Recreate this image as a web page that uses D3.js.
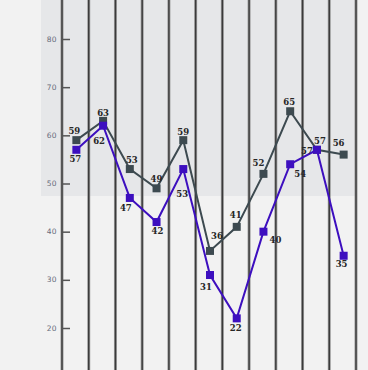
<!DOCTYPE html>
<html>
<head>
<meta charset="utf-8">
<script src="https://cdn.jsdelivr.net/npm/d3@7"></script>
<style>
  html, body { margin: 0; padding: 0; background: #f2f2f2; }
  svg { display: block; }
</style>
</head>
<body>
<svg class="line-chart"></svg>
<script>
const width = 368;
const height = 370;

// data
const categories = ["1", "2", "3", "4", "5", "6", "7", "8", "9", "10", "11"];
const greySeries = [59, 63, 53, 49, 59, 36, 41, 52, 65, 57, 56];
const purpleSeries = [57, 62, 47, 42, 53, 31, 22, 40, 54, 57, 35];
const yTicks = [20, 30, 40, 50, 60, 70, 80];
const bandFrom = 47.4;

// label nudges (dx, dy from the point) so the numbers don't collide
const greyNudge = [[-2, -6], [0, -5], [2, -6], [0, -6], [0, -5], [7, -12], [-1, -9], [-5, -8], [-1, -6], [3, -6], [-5, -9]];
const purpleNudge = [[-1, 12], [-4, 18], [-4, 13], [1, 12], [-1, 28], [-4, 15], [-1, 13], [12, 11], [10, 13], [-10, 4], [-2, 11]];

const svg = d3.select(".line-chart")
    .attr("width", width)
    .attr("height", height);

const x = d3.scaleBand()
    .domain(categories)
    .range([62, 356])
    .padding(0);

const y = d3.scaleLinear()
    .domain([20, 80])
    .range([328, 39]);

const cx = d => x(d) + x.bandwidth() / 2 + 1;

// shaded band at the top of the plot
svg.append("rect")
    .attr("x", 41)
    .attr("y", 0)
    .attr("width", x.range()[1] - 41)
    .attr("height", y(bandFrom))
    .attr("fill", "#e6e7e9");

// vertical grid lines on the band edges
const edges = categories.map(c => x(c)).concat([x.range()[1]]);
const grid = svg.append("g");
grid.selectAll("line.halo")
    .data(edges)
    .enter().append("line")
        .attr("class", "halo")
        .attr("x1", d => d).attr("x2", d => d)
        .attr("y1", 0).attr("y2", height)
        .attr("stroke", "#9a9a9a")
        .attr("stroke-width", 3);
grid.selectAll("line.core")
    .data(edges)
    .enter().append("line")
        .attr("class", "core")
        .attr("x1", d => d).attr("x2", d => d)
        .attr("y1", 0).attr("y2", height)
        .attr("stroke", "#3a3a3a")
        .attr("stroke-width", 1.4);

// y axis with inner ticks
const yAxis = g => g
    .attr("transform", `translate(${x.range()[0]},0)`)
    .call(d3.axisRight(y).tickValues(yTicks).tickSize(8).tickFormat(""))
    .call(g => g.select(".domain").remove())
    .call(g => g.selectAll(".tick line").attr("stroke", "#555").attr("stroke-width", 1.5));
svg.append("g").call(yAxis);

svg.append("g")
    .attr("fill", "#676a7c")
    .attr("text-anchor", "end")
    .style("font", "7.5px 'DejaVu Sans'")
    .style("letter-spacing", "0.4px")
    .selectAll("text")
        .data(yTicks)
    .enter().append("text")
        .attr("x", 57)
        .attr("y", d => y(d))
        .attr("dy", "0.35em")
        .text(d => d);

function drawSeries(values, color, nudge) {
    const pts = values.map((v, i) => ({cat: categories[i], v, i}));
    const line = d3.line().x(d => cx(d.cat)).y(d => y(d.v));

    svg.append("path")
        .datum(pts)
        .attr("fill", "none")
        .attr("stroke", color)
        .attr("stroke-width", 2)
        .attr("d", line);

    svg.append("g")
        .attr("fill", color)
        .selectAll("rect")
            .data(pts)
        .enter().append("rect")
            .attr("x", d => cx(d.cat) - 4)
            .attr("y", d => y(d.v) - 4)
            .attr("width", 8)
            .attr("height", 8);

    svg.append("g")
        .attr("fill", "#262626")
        .attr("text-anchor", "middle")
        .style("font", "bold 8.5px 'DejaVu Serif'")
        .selectAll("text")
            .data(pts)
        .enter().append("text")
            .attr("x", d => cx(d.cat) + nudge[d.i][0])
            .attr("y", d => y(d.v) + nudge[d.i][1])
            .text(d => d.v);
}

drawSeries(greySeries, "#3d4a50", greyNudge);
drawSeries(purpleSeries, "#3d0fbf", purpleNudge);
</script>
</body>
</html>
